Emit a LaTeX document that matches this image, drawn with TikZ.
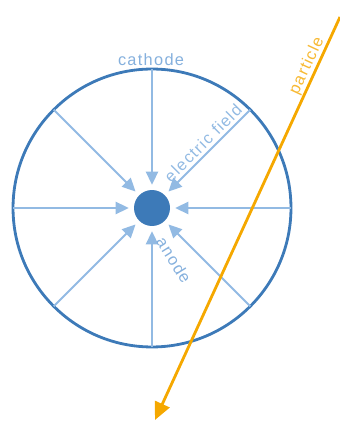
\documentclass[tikz,border=0pt]{standalone}
\usepackage{fontspec}
\setsansfont{Liberation Sans}
\usepackage{tikz}
\usetikzlibrary{arrows.meta,calc,positioning}
\usepackage{xcolor}
\definecolor{ringblue}{HTML}{3D7AB8}
\definecolor{fieldblue}{HTML}{92BAE3}
\definecolor{partorange}{HTML}{F5A800}

\begin{document}
\begin{tikzpicture}[
  x=0.02cm, y=-0.02cm,
  font=\sffamily\fontsize{9.3}{11}\selectfont\addfontfeature{LetterSpace=8},
  ring/.style={circle,draw=ringblue,line width=1.6pt,inner sep=0pt,
               outer sep=0pt,minimum size=5.56cm},
  anode/.style={circle,fill=ringblue,inner sep=0pt,outer sep=0pt,
                minimum size=0.72cm},
  field/.style={draw=fieldblue,line width=1.1pt,shorten >=3pt,
                -{Triangle[length=7.5pt,width=7pt]}},
  track/.style={draw=partorange,line width=1.6pt,
                -{Triangle[length=10pt,width=9pt]}},
  lbl/.style={inner sep=1pt}
]
\useasboundingbox (0,0) rectangle (340,421);
\node[ring] (cathode) at (152,208) {};
\node[anode] (anode) at (152,208) {};

% field lines from the cathode towards the anode
\foreach \a in {0,45,...,315}
  \draw[field] (cathode.\a) -- (anode.\a);

\coordinate (pin) at (340,17);
\coordinate (pout) at (155,420);
\draw[track] (pin) -- (pout);

\node[lbl,text=fieldblue!85!ringblue] (cathodelbl) at (151,60) {cathode};
\node[lbl,text=fieldblue,rotate=45] (fieldlbl) at (203,143) {electric field};
\node[lbl,text=fieldblue!85!ringblue,rotate=-58] (anodelbl) at (174,260) {anode};
\node[lbl,text=partorange!80,rotate=65] (partlbl) at (307,66) {particle};
\end{tikzpicture}
\end{document}
